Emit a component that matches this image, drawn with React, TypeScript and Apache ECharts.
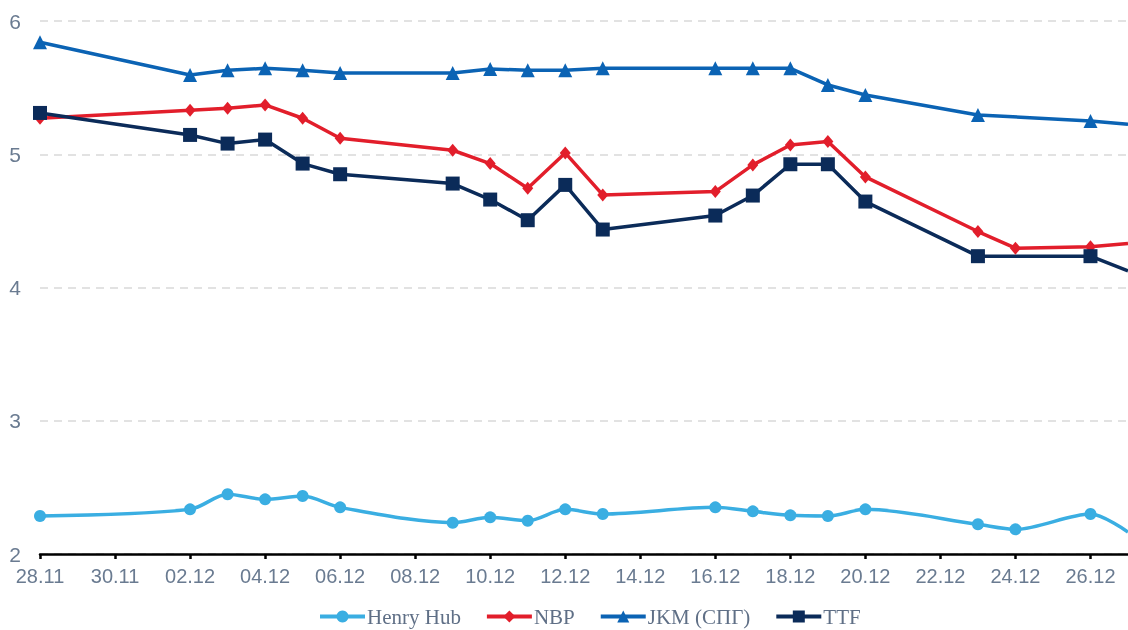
import React, { useEffect, useRef } from "react";
import * as echarts from "echarts";

const dates = ["28.11", "02.12", "03.12", "04.12", "05.12", "06.12", "09.12", "10.12", "11.12", "12.12", "13.12", "16.12", "17.12", "18.12", "19.12", "20.12", "23.12", "24.12", "26.12", "27.12"];
const henryHub = [2.285, 2.335, 2.448, 2.41, 2.435, 2.35, 2.235, 2.275, 2.25, 2.335, 2.3, 2.35, 2.32, 2.29, 2.285, 2.335, 2.223, 2.185, 2.3, 2.165];
const nbp = [5.27, 5.33, 5.345, 5.37, 5.27, 5.12, 5.03, 4.93, 4.745, 5.01, 4.695, 4.72, 4.92, 5.07, 5.095, 4.83, 4.42, 4.295, 4.305, 4.33];
const jkm = [5.84, 5.595, 5.63, 5.645, 5.63, 5.61, 5.61, 5.64, 5.63, 5.63, 5.645, 5.645, 5.645, 5.645, 5.52, 5.445, 5.295, null, 5.25, 5.225];
const ttf = [5.31, 5.145, 5.08, 5.11, 4.93, 4.85, 4.78, 4.66, 4.505, 4.77, 4.435, 4.54, 4.69, 4.925, 4.925, 4.645, 4.235, null, 4.235, 4.125];
const seriesNames = ["Henry Hub", "NBP", "JKM (СПГ)", "TTF"];
const yTicks = [2, 3, 4, 5, 6];

// day index: 28.11 -> 0
function toDay(s: string): number {
  const [d, m] = s.split(".").map(Number);
  return m === 11 ? d - 28 : d + 2;
}
function fromDay(v: number): string {
  if (v <= 2) return String(28 + v).padStart(2, "0") + ".11";
  return String(v - 2).padStart(2, "0") + ".12";
}
function pairs(vals: (number | null)[]) {
  const out: any[] = [];
  dates.forEach((d, i) => {
    if (vals[i] === null) return;
    const item: any = { value: [toDay(d), vals[i]] };
    if (i === dates.length - 1) item.symbol = "none";
    out.push(item);
  });
  return out;
}

export default function App() {
  const ref = useRef<HTMLDivElement>(null);
  useEffect(() => {
    const chart = echarts.init(ref.current!, undefined, { renderer: "svg" });
    const labelColor = "#6a7b91";
    const lw = 3.5;
    chart.setOption({
      animation: false,
      grid: { left: 40, right: -8, top: 21, bottom: 76 },
      legend: {
        left: 313,
        top: 601,
        itemWidth: 45,
        itemHeight: 15,
        itemGap: 24,
        lineStyle: { width: 4 },
        textStyle: { fontFamily: "Liberation Serif", fontSize: 21, color: "#5f6f86", padding: [0, 0, 0, -3] },
        data: seriesNames,
      },
      xAxis: {
        type: "value",
        min: 0,
        max: 29,
        interval: 2,
        axisLine: { show: true, onZero: false, lineStyle: { color: "#000", width: 2.5 } },
        axisTick: { show: true, length: 5, lineStyle: { color: "#000", width: 2.5 } },
        splitLine: { show: false },
        axisLabel: {
          showMaxLabel: false,
          margin: 12,
          fontFamily: "Liberation Sans",
          fontSize: 20,
          color: labelColor,
          formatter: (v: number) => fromDay(v),
        },
      },
      yAxis: {
        type: "value",
        min: yTicks[0],
        max: yTicks[yTicks.length - 1],
        interval: 1,
        axisLine: { show: false },
        axisTick: { show: false },
        axisLabel: { margin: 19, fontFamily: "Liberation Sans", fontSize: 21, color: labelColor },
        splitLine: { lineStyle: { color: "#d9d9d9", width: 1.5, type: [8, 6] } },
      },
      series: [
        {
          name: seriesNames[0],
          type: "line",
          data: pairs(henryHub),
          smooth: 0.3,
          symbol: "circle",
          symbolSize: 12,
          color: "#3aaee2",
          lineStyle: { width: lw },
        },
        {
          name: seriesNames[1],
          type: "line",
          data: pairs(nbp),
          symbol: "diamond",
          symbolSize: [11, 13],
          color: "#e21e2b",
          lineStyle: { width: lw },
        },
        {
          name: seriesNames[2],
          type: "line",
          data: pairs(jkm),
          symbol: "triangle",
          symbolSize: 14,
          color: "#0b63b4",
          lineStyle: { width: lw },
        },
        {
          name: seriesNames[3],
          type: "line",
          data: pairs(ttf),
          symbol: "rect",
          symbolSize: 14,
          color: "#0b2b59",
          lineStyle: { width: lw },
        },
      ],
    });
    return () => chart.dispose();
  }, []);
  return <div ref={ref} style={{ position: "fixed", left: 0, top: 0, width: 1128, height: 630 }} />;
}
